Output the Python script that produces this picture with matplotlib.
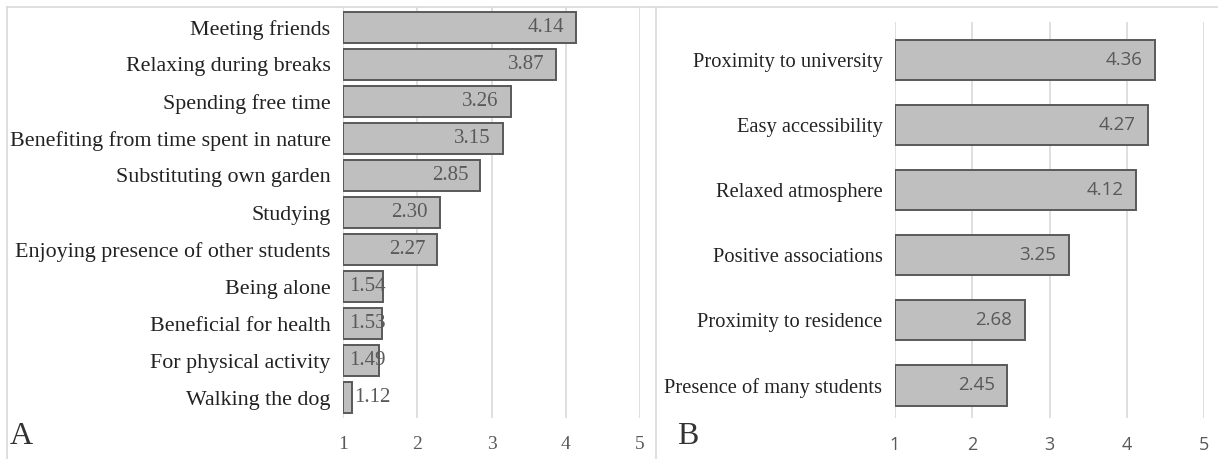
import matplotlib
matplotlib.use("Agg")
import matplotlib.pyplot as plt
from matplotlib.lines import Line2D

# panel A: activities
labels_a = ["Meeting friends", "Relaxing during breaks", "Spending free time",
            "Benefiting from time spent in nature", "Substituting own garden",
            "Studying", "Enjoying presence of other students", "Being alone",
            "Beneficial for health", "For physical activity", "Walking the dog"]
values_a = [4.14, 3.87, 3.26, 3.15, 2.85, 2.30, 2.27, 1.54, 1.53, 1.49, 1.12]

# panel B: reasons
labels_b = ["Proximity to university", "Easy accessibility", "Relaxed atmosphere",
            "Positive associations", "Proximity to residence", "Presence of many students"]
values_b = [4.36, 4.27, 4.12, 3.25, 2.68, 2.45]

ticks = [1, 2, 3, 4, 5]

W, H = 1218, 459
fig = plt.figure(figsize=(W / 100, H / 100), dpi=100)

SERIF = "Liberation Serif"
SANS = "Open Sans"
BAR = "#bfbfbf"
EDGE = "#595959"
GRID = "#d9d9d9"
TXT = "#595959"


def box(x0, x1, y0, y1):
    return [x0 / W, 1 - y1 / H, (x1 - x0) / W, (y1 - y0) / H]


def panel(ax, labels, values, height, top, bottom, lab_font, lab_size,
          val_font, val_size, tick_font, tick_size):
    n = len(labels)
    pos = list(range(n))
    ax.barh(pos, [v - 1 for v in values], left=1, height=height,
            color=BAR, edgecolor=EDGE, linewidth=1.4, zorder=3)
    ax.set_xlim(1, 5)
    ax.set_ylim(n - 1 + bottom, -top)
    ax.set_xticks(ticks)
    ax.set_xticklabels([str(t) for t in ticks], family=tick_font, fontsize=tick_size, color=TXT)
    ax.set_yticks(pos)
    ax.set_yticklabels(labels, family=lab_font, fontsize=lab_size, color="#222222")
    ax.tick_params(length=0, pad=9)
    ax.tick_params(axis="x", pad=13)
    for s in ax.spines.values():
        s.set_visible(False)
    for t in ticks:
        ax.axvline(t, color=GRID, lw=1.2, zorder=0)
    for p, v in zip(pos, values):
        if v < 1.2:
            ax.text(v + 0.03, p, f"{v:.2f}", ha="left", va="center",
                    family=val_font, fontsize=val_size, color=TXT, zorder=4)
        elif v < 1.7:
            ax.text(1.08, p, f"{v:.2f}", ha="left", va="center",
                    family=val_font, fontsize=val_size, color=TXT, zorder=4)
        else:
            ax.text(v - 0.16, p, f"{v:.2f}", ha="right", va="center",
                    family=val_font, fontsize=val_size, color=TXT, zorder=4)


ax_a = fig.add_axes(box(343, 640, 7, 418))
panel(ax_a, labels_a, values_a, 0.84, 0.55, 0.55, SERIF, 15.8, SERIF, 15, SERIF, 14)

ax_b = fig.add_axes(box(895, 1204, 22, 418))
panel(ax_b, labels_b, values_b, 0.62, 0.58, 0.5, SERIF, 14.8, SANS, 13.5, SANS, 13)

# panel letters
fig.text(10 / W, 1 - 437 / H, "A", family=SERIF, fontsize=23, color="#333333", va="center")
fig.text(677 / W, 1 - 437 / H, "B", family=SERIF, fontsize=23, color="#333333", va="center")

# panel frames
fig.add_artist(Line2D([7 / W, 1], [1 - 7 / H] * 2, color=GRID, lw=1.2))
fig.add_artist(Line2D([7 / W] * 2, [0, 1 - 7 / H], color=GRID, lw=1.2))
fig.add_artist(Line2D([656 / W] * 2, [0, 1 - 7 / H], color=GRID, lw=1.2))

fig.savefig("out.png", dpi=100, facecolor="white")
